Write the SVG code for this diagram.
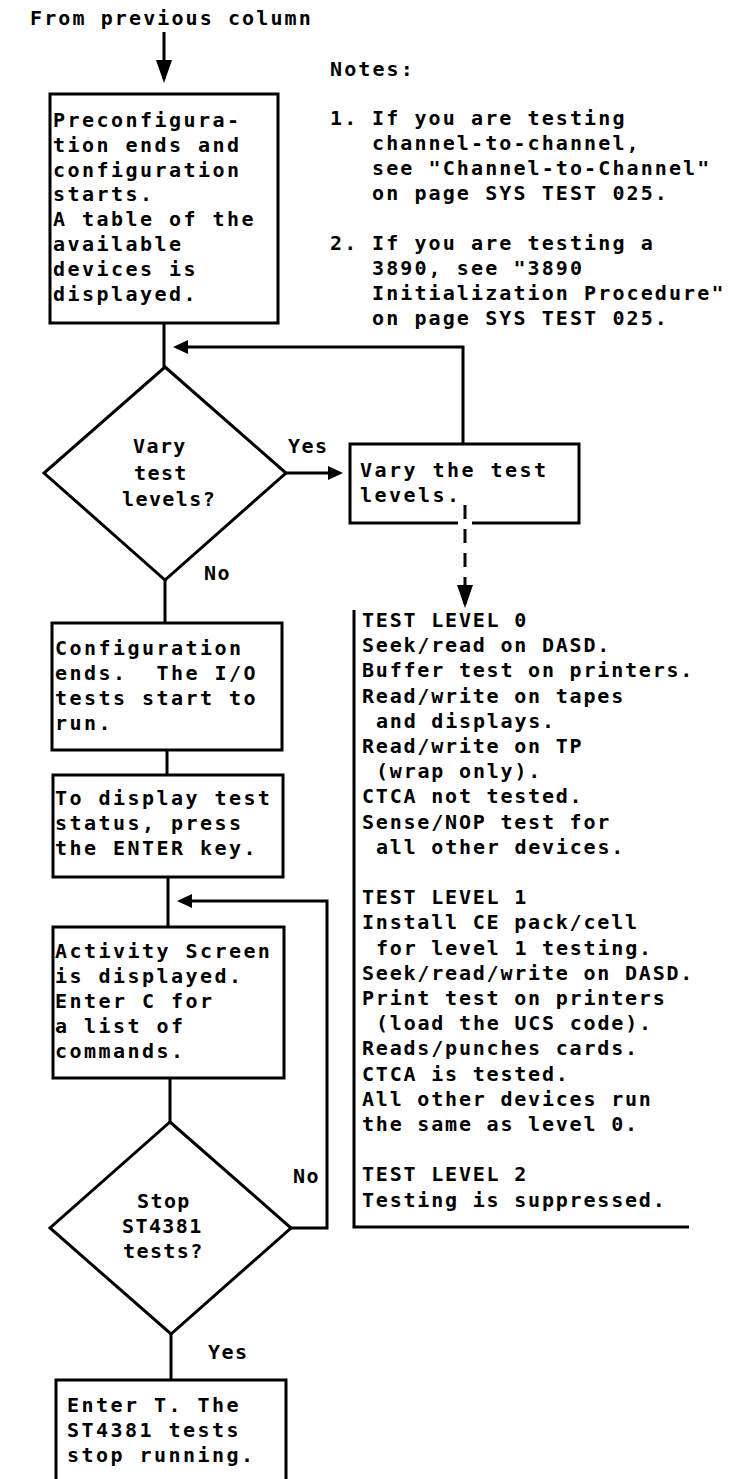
<svg xmlns="http://www.w3.org/2000/svg" width="742" height="1479" viewBox="0 0 742 1479">
<style>
text{font-family:"DejaVu Sans Mono","Liberation Mono",monospace;font-size:20px;fill:#000;font-weight:bold}
.b{letter-spacing:2.45px}
.n{letter-spacing:2.1px}
.p{letter-spacing:1.8px}
.d{letter-spacing:1.4px}
.box{fill:none;stroke:#000;stroke-width:3}
.c{fill:none;stroke:#000;stroke-width:3}
.dash{stroke-dasharray:14 10}
</style>
<defs>
<marker id="ah" markerUnits="userSpaceOnUse" viewBox="0 0 23 16" refX="19" refY="8" markerWidth="23" markerHeight="16" orient="auto"><path d="M0 0L23 8L0 16z" fill="#000"/></marker>
<marker id="as" markerUnits="userSpaceOnUse" viewBox="0 0 15 14" refX="11" refY="7" markerWidth="15" markerHeight="14" orient="auto"><path d="M0 0L15 7L0 14z" fill="#000"/></marker>
</defs>
<rect width="742" height="1479" fill="#fff"/>

<g id="start">
<text class="n" x="30" y="25">From previous column</text>
</g>

<g id="notes">
<text class="n" x="330" y="76">Notes:</text>
<text class="n" x="330" y="125">1.</text>
<text class="n" x="372" y="125">If you are testing</text>
<text class="n" x="372" y="150">channel-to-channel,</text>
<text class="n" x="372" y="175">see "Channel-to-Channel"</text>
<text class="n" x="372" y="200">on page SYS TEST 025.</text>
<text class="n" x="330" y="250">2.</text>
<text class="n" x="372" y="250">If you are testing a</text>
<text class="n" x="372" y="275">3890, see "3890</text>
<text class="n" x="372" y="300">Initialization Procedure"</text>
<text class="n" x="372" y="325">on page SYS TEST 025.</text>
</g>

<g id="preconfig">
<rect class="box" x="50" y="94" width="228" height="229"/>
<text class="b" x="53" y="127">Preconfigura-</text>
<text class="b" x="53" y="152">tion ends and</text>
<text class="b" x="53" y="177">configuration</text>
<text class="b" x="53" y="201">starts.</text>
<text class="b" x="53" y="226">A table of the</text>
<text class="b" x="53" y="251">available</text>
<text class="b" x="53" y="276">devices is</text>
<text class="b" x="53" y="301">displayed.</text>
</g>

<g id="vary-decision">
<path class="box" d="M165 367L286 473L165 580L44 473z"/>
<text class="d" x="133" y="453">Vary</text>
<text class="d" x="134" y="480">test</text>
<text class="d" x="122" y="506">levels?</text>
</g>

<g id="vary-box">
<path class="box" d="M458 523H350V444H579V523H472"/>
<text class="b" x="360" y="477">Vary the test</text>
<text class="b" x="360" y="502">levels.</text>
</g>

<g id="test-levels">
<path class="c" d="M354 610V1227H689"/>
<text class="p" x="362" y="627">TEST LEVEL 0</text>
<text class="p" x="362" y="652">Seek/read on DASD.</text>
<text class="p" x="362" y="677">Buffer test on printers.</text>
<text class="p" x="362" y="703">Read/write on tapes</text>
<text class="p" x="376" y="728">and displays.</text>
<text class="p" x="362" y="753">Read/write on TP</text>
<text class="p" x="376" y="778">(wrap only).</text>
<text class="p" x="362" y="803">CTCA not tested.</text>
<text class="p" x="362" y="829">Sense/NOP test for</text>
<text class="p" x="376" y="854">all other devices.</text>
<text class="p" x="362" y="904">TEST LEVEL 1</text>
<text class="p" x="362" y="929">Install CE pack/cell</text>
<text class="p" x="376" y="955">for level 1 testing.</text>
<text class="p" x="362" y="980">Seek/read/write on DASD.</text>
<text class="p" x="362" y="1005">Print test on printers</text>
<text class="p" x="376" y="1030">(load the UCS code).</text>
<text class="p" x="362" y="1055">Reads/punches cards.</text>
<text class="p" x="362" y="1081">CTCA is tested.</text>
<text class="p" x="362" y="1106">All other devices run</text>
<text class="p" x="362" y="1131">the same as level 0.</text>
<text class="p" x="362" y="1181">TEST LEVEL 2</text>
<text class="p" x="362" y="1207">Testing is suppressed.</text>
</g>

<g id="config-ends">
<rect class="box" x="52" y="623" width="230" height="127"/>
<text class="b" x="55" y="655">Configuration</text>
<text class="b" x="55" y="680" xml:space="preserve">ends.  The I/O</text>
<text class="b" x="55" y="705">tests start to</text>
<text class="b" x="55" y="730">run.</text>
</g>

<g id="display-status">
<rect class="box" x="53" y="775" width="230" height="102"/>
<text class="b" x="55" y="805">To display test</text>
<text class="b" x="55" y="830">status, press</text>
<text class="b" x="55" y="855">the ENTER key.</text>
</g>

<g id="activity">
<rect class="box" x="53" y="927" width="231" height="151"/>
<text class="b" x="55" y="958">Activity Screen</text>
<text class="b" x="55" y="983">is displayed.</text>
<text class="b" x="55" y="1008">Enter C for</text>
<text class="b" x="55" y="1033">a list of</text>
<text class="b" x="55" y="1058">commands.</text>
</g>

<g id="stop-decision">
<path class="box" d="M170 1122L291 1228L171 1334L50 1228z"/>
<text class="d" x="137" y="1208">Stop</text>
<text class="d" x="122" y="1233">ST4381</text>
<text class="d" x="123" y="1258">tests?</text>
</g>

<g id="enter-t">
<path class="box" d="M56 1479V1380H286V1479"/>
<text class="b" x="67" y="1412">Enter T. The</text>
<text class="b" x="67" y="1437">ST4381 tests</text>
<text class="b" x="67" y="1462">stop running.</text>
</g>

<g id="connectors">
<path class="c" d="M164 32V79" marker-end="url(#ah)"/>
<path class="c" d="M164 323V367"/>
<path class="c" d="M463 444V347H177" marker-end="url(#as)"/>
<path class="c" d="M286 473H339" marker-end="url(#as)"/>
<path class="c dash" d="M465 505V604" marker-end="url(#ah)"/>
<path class="c" d="M165 580V623"/>
<path class="c" d="M167 750V775"/>
<path class="c" d="M168 877V927"/>
<path class="c" d="M291 1228H327V901H181" marker-end="url(#as)"/>
<path class="c" d="M170 1078V1122"/>
<path class="c" d="M171 1334V1380"/>
<text class="d" x="288" y="453">Yes</text>
<text class="d" x="204" y="580">No</text>
<text class="d" x="293" y="1183">No</text>
<text class="d" x="208" y="1359">Yes</text>
</g>
</svg>
